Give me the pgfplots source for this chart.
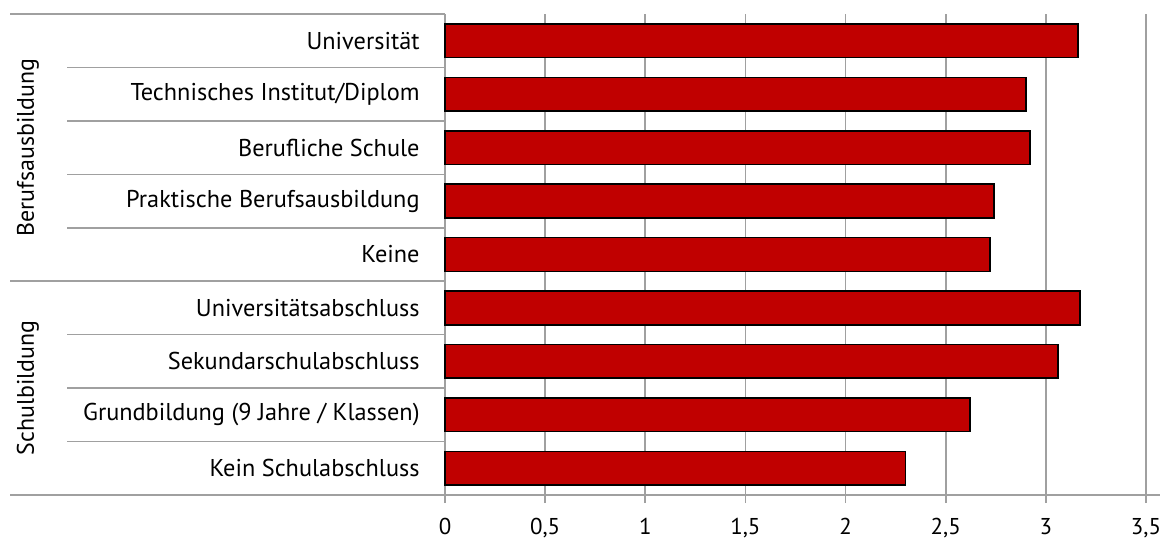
\documentclass[border=0pt]{standalone}
\usepackage{pgfplots}
\pgfplotsset{compat=1.18}
\usepackage{fontspec}
\setmainfont{PT Sans}
\definecolor{barred}{HTML}{C00000}
\definecolor{gridgrey}{HTML}{A0A0A0}
\begin{document}
\fontsize{12pt}{14pt}\selectfont
\begin{tikzpicture}
\begin{axis}[
  xbar, scale only axis,
  width=350.5bp, height=240.5bp,
  xmin=0, xmax=3.5, ymin=-0.5, ymax=8.5,
  bar width=0.63,
  axis x line*=bottom, axis y line*=left,
  axis line style={gridgrey, line width=0.8bp},
  xtick={0,0.5,1,1.5,2,2.5,3,3.5},
  xmajorgrids, grid style={gridgrey, line width=0.8bp},
  tick align=outside, major tick length=4bp,
  x tick style={gridgrey, line width=0.8bp},
  y tick style={draw=none},
  ytick={0,1,2,3,4,5,6,7,8},
  yticklabels={Kein Schulabschluss, Grundbildung (9 Jahre / Klassen), Sekundarschulabschluss, Universitätsabschluss, Keine, Praktische Berufsausbildung\ , Berufliche Schule, Technisches Institut/Diplom, Universität},
  yticklabel style={inner sep=0pt, anchor=east, xshift=-8.5bp, font=\fontsize{12.2pt}{14pt}\selectfont},
  xticklabel style={inner sep=0pt, anchor=north, yshift=-7.5bp, font=\fontsize{11.5pt}{14pt}\selectfont},
  /pgf/number format/.cd, use comma, assume math mode=true,
  /pgfplots/.cd,
  clip=false,
]
\addplot[fill=barred, draw=black, line width=0.8bp] coordinates {
  (2.30,0) (2.62,1) (3.06,2) (3.17,3) (2.72,4) (2.74,5) (2.92,6) (2.90,7) (3.16,8)
};
\pgfplotsinvokeforeach{0.5,1.5,2.5,4.5,5.5,6.5,7.5}{
  \draw[gridgrey, line width=0.8bp] (axis cs:0,#1) -- ([xshift=-189bp]axis cs:0,#1);
}
\pgfplotsinvokeforeach{-0.5,3.5,8.5}{
  \draw[gridgrey, line width=0.8bp] (axis cs:0,#1) -- ([xshift=-217.5bp]axis cs:0,#1);
}
\draw[gridgrey, line width=0.8bp] (axis cs:3.5,-0.5) -- ([xshift=7bp]axis cs:3.5,-0.5);
\node[rotate=90] at ([xshift=-208.5bp]axis cs:0,6) {Berufsausbildung};
\node[rotate=90] at ([xshift=-208.5bp]axis cs:0,1.5) {Schulbildung};
\path ([xshift=-222.5bp, yshift=7bp]axis cs:0,8.5) rectangle ([xshift=8.5bp, yshift=-22.5bp]axis cs:3.5,-0.5);
\end{axis}
\end{tikzpicture}
\end{document}
